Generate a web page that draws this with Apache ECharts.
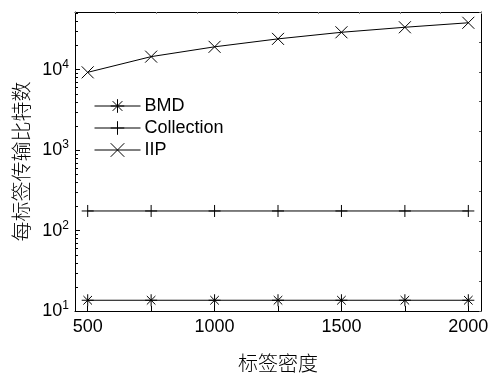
<!DOCTYPE html>
<html>
<head>
<meta charset="utf-8">
<script src="https://cdn.jsdelivr.net/npm/echarts@6/dist/echarts.min.js"></script>
<style>html,body{margin:0;padding:0;background:#fff}#c{width:490px;height:373px}</style>
</head>
<body>
<div id="c"></div>
<script>
const categories = [500, 750, 1000, 1250, 1500, 1750, 2000];
const bmd = [13.6, 13.6, 13.6, 13.6, 13.6, 13.6, 13.6];
const collection = [175, 175, 175, 175, 175, 175, 175];
const iip = [9250, 14500, 19200, 24100, 29100, 33600, 38200];
const xLabelValues = [500, 1000, 1500, 2000];
const xTickValues = [500, 750, 1000, 1250, 1500, 1750, 2000];
const yMinorTicks = [20,30,40,50,60,70,80,90,200,300,400,500,600,700,800,900,2000,3000,4000,5000,6000,7000,8000,9000,20000,30000,40000,50000];

const FONT = '"Liberation Sans", Arial, sans-serif';
const CJK = '"Noto Sans CJK SC", sans-serif';
const X_MIN = 450, X_MAX = 2050, Y_MIN = 10, Y_MAX = 52000;

const symAst = 'path://M0,0L10,10M10,0L0,10M5,-2L5,12M-2,5L12,5';
const symPlus = 'path://M5,0L5,10M0,5L10,5';
const symX = 'path://M0,0L10,10M10,0L0,10';

function pairs(arr) { return categories.map((c, i) => [c, arr[i]]); }
function lineSeries(name, arr, sym, size) {
  return {
    name: name, type: 'line', data: pairs(arr),
    symbol: sym, symbolSize: size, symbolKeepAspect: true,
    showAllSymbol: true,
    lineStyle: { color: '#000', width: 1 },
    itemStyle: { color: '#000', borderColor: '#000', borderWidth: 1 },
    emphasis: { disabled: true }, animation: false
  };
}

const chart = echarts.init(document.getElementById('c'), null, { renderer: 'canvas' });
chart.setOption({
  animation: false,
  backgroundColor: '#fff',
  grid: { left: 75, right: 9, top: 12, bottom: 62, containLabel: false, outerBoundsMode: 'none' },
  legend: {
    orient: 'vertical', left: 89, top: 92,
    itemWidth: 46, itemHeight: 17, itemGap: 4,
    lineStyle: { width: 1, color: '#000' },
    itemStyle: { borderWidth: 1 },
    textStyle: { fontFamily: FONT, fontSize: 18, color: '#000', lineHeight: 18, padding: [0,0,0,-1] },
    data: ['BMD', 'Collection', 'IIP']
  },
  xAxis: [{
    type: 'value', min: X_MIN, max: X_MAX,
    name: '标签密度', nameLocation: 'middle', nameGap: 42,
    nameTextStyle: { fontFamily: CJK, fontSize: 20, fontWeight: 300, color: '#000' },
    axisLine: { show: true, lineStyle: { color: '#000', width: 1 } },
    axisTick: { show: true, inside: true, length: 5, customValues: xTickValues, lineStyle: { color: '#000' } },
    axisLabel: { show: true, customValues: xLabelValues, margin: 7, fontFamily: FONT, fontSize: 18, color: '#000',
      formatter: function (v) { return String(v); } },
    splitLine: { show: false }
  }, {
    type: 'value', position: 'top', min: 0, max: 10, interval: 1,
    axisLine: { show: true, onZero: false, lineStyle: { color: '#000', width: 1 } },
    axisTick: { show: true, inside: true, length: 2, lineStyle: { color: '#888' } },
    axisLabel: { show: false }, splitLine: { show: false }
  }],
  yAxis: [{
    type: 'log', logBase: 10, min: Y_MIN, max: Y_MAX,
    name: '每标签传输比特数', nameLocation: 'middle', nameGap: 33, nameRotate: 90,
    nameTextStyle: { fontFamily: CJK, fontSize: 20, fontWeight: 300, color: '#000' },
    axisLine: { show: true, lineStyle: { color: '#000', width: 1 } },
    axisTick: { show: true, inside: true, length: 5, lineStyle: { color: '#000' } },
    axisLabel: {
      show: true, margin: 6,
      formatter: function (v) {
        const l = Math.log10(v);
        const e = Math.round(l);
        if (Math.abs(l - e) > 1e-6) return '';
        return '{b|10}{s|' + e + '}';
      },
      rich: {
        b: { fontFamily: FONT, fontSize: 18, color: '#000' },
        s: { fontFamily: FONT, fontSize: 12, color: '#000', verticalAlign: 'top', padding: [0,0,10,0] }
      }
    },
    splitLine: { show: false }
  }, {
    type: 'value', position: 'right', min: 0, max: 10, interval: 1,
    axisLine: { show: true, onZero: false, lineStyle: { color: '#000', width: 1 } },
    axisTick: { show: true, inside: true, length: 2, lineStyle: { color: '#555' } },
    axisLabel: { show: false }, splitLine: { show: false }
  }],
  series: [
    lineSeries('BMD', bmd, symAst, 12),
    lineSeries('Collection', collection, symPlus, 12),
    lineSeries('IIP', iip, symX, 12),
    {
      type: 'custom', silent: true, clip: false,
      xAxisIndex: 0, yAxisIndex: 0,
      data: yMinorTicks.map(v => [X_MIN, v]),
      renderItem: function (params, api) {
        const p = api.coord([X_MIN, api.value(1)]);
        const y = Math.round(p[1]) + 0.5;
        const x = Math.round(p[0]);
        return { type: 'line', shape: { x1: x, y1: y, x2: x + 3, y2: y }, style: { stroke: '#000', lineWidth: 1 } };
      }
    }
  ]
});
</script>
</body>
</html>
